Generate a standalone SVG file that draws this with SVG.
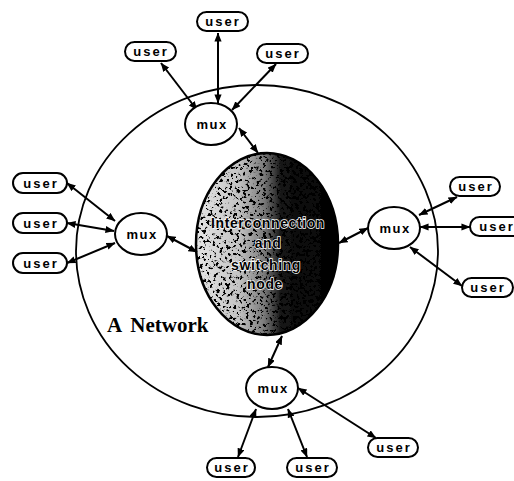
<svg xmlns="http://www.w3.org/2000/svg" width="514" height="481" viewBox="0 0 514 481">
<style>
.user rect{fill:#fff;stroke:#000;stroke-width:2}
.user text{font-family:"Liberation Sans",Arial,sans-serif;font-weight:bold;font-size:13px;letter-spacing:2px;text-anchor:middle;fill:#000}
.mux ellipse{fill:#fff;stroke:#000;stroke-width:2}
.mux text{font-family:"Liberation Sans",Arial,sans-serif;font-weight:bold;font-size:13px;letter-spacing:1.5px;text-anchor:middle;fill:#000}
.conn line{stroke:#000;stroke-width:2;marker-start:url(#ah);marker-end:url(#ah)}
.core text{font-family:"Liberation Sans",Arial,sans-serif;font-weight:bold;font-size:14px;text-anchor:middle;fill:#000;stroke:#fff;stroke-width:1.4;paint-order:stroke;letter-spacing:0.6px}
</style>
<defs>
<marker id="ah" viewBox="0 0 10 8" refX="9.5" refY="4" markerWidth="4.5" markerHeight="3.6" orient="auto-start-reverse" markerUnits="strokeWidth">
<path d="M0,0 L10,4 L0,8 Z" fill="#000"/>
</marker>
<linearGradient id="g" x1="0" y1="0" x2="1" y2="0">
<stop offset="0" stop-color="#e6e6e6"/>
<stop offset="0.3" stop-color="#c4c4c4"/>
<stop offset="0.48" stop-color="#7a7a7a"/>
<stop offset="0.6" stop-color="#151515"/>
<stop offset="1" stop-color="#000"/>
</linearGradient>
<filter id="speckle" x="0" y="0" width="100%" height="100%">
<feTurbulence type="fractalNoise" baseFrequency="0.3" numOctaves="3" seed="7" result="n"/>
<feColorMatrix in="n" type="matrix" values="0 0 0 0 0  0 0 0 0 0  0 0 0 0 0  12 0 0 0 -6.6" result="dots"/>
<feComposite in="dots" in2="SourceGraphic" operator="in" result="d2"/>
<feMerge><feMergeNode in="SourceGraphic"/><feMergeNode in="d2"/></feMerge>
</filter>
</defs>
<rect width="514" height="481" fill="#fff"/>
<g id="network">
<ellipse cx="257" cy="251" rx="181" ry="166" fill="none" stroke="#000" stroke-width="1.8"/>
<text x="107" y="332" font-family="'Liberation Serif','Times New Roman',serif" font-weight="bold" font-size="21" word-spacing="4">A Network</text>
</g>
<g id="core" class="core">
<ellipse cx="267" cy="244" rx="71" ry="91" fill="url(#g)" filter="url(#speckle)"/>
<ellipse cx="267" cy="244" rx="71" ry="91" fill="none" stroke="#000" stroke-width="2.5"/>
<text x="268" y="228">Interconnection</text>
<text x="268" y="248">and</text>
<text x="266" y="270">switching</text>
<text x="265" y="289">node</text>
</g>
<g id="connectors" class="conn">
<line x1="197" y1="110" x2="161" y2="63"/>
<line x1="218" y1="103" x2="218" y2="33"/>
<line x1="232" y1="110" x2="276" y2="64"/>
<line x1="239" y1="128" x2="258" y2="153"/>
<line x1="115" y1="221" x2="67" y2="183"/>
<line x1="114" y1="231" x2="67" y2="223"/>
<line x1="115" y1="243" x2="67" y2="263"/>
<line x1="167" y1="236" x2="197" y2="252"/>
<line x1="368" y1="228" x2="339" y2="243"/>
<line x1="419" y1="215" x2="457" y2="197"/>
<line x1="420" y1="227" x2="470" y2="227"/>
<line x1="410" y1="247" x2="462" y2="286"/>
<line x1="282" y1="336" x2="268" y2="367"/>
<line x1="256" y1="409" x2="238" y2="457"/>
<line x1="288" y1="409" x2="307" y2="457"/>
<line x1="298" y1="388" x2="376" y2="438"/>
</g>
<g id="mux-top" class="mux"><ellipse cx="211" cy="124" rx="26" ry="21"/><text x="212" y="129">mux</text></g>
<g id="mux-left" class="mux"><ellipse cx="141" cy="234" rx="26" ry="21"/><text x="142" y="239">mux</text></g>
<g id="mux-right" class="mux"><ellipse cx="394" cy="228" rx="26" ry="21"/><text x="395" y="233">mux</text></g>
<g id="mux-bottom" class="mux"><ellipse cx="272" cy="388" rx="26" ry="21"/><text x="273" y="393">mux</text></g>
<g id="user-t1" class="user"><rect x="125" y="42" width="51" height="19" rx="9.5"/><text x="151" y="56">user</text></g>
<g id="user-t2" class="user"><rect x="197" y="12" width="51" height="19" rx="9.5"/><text x="223" y="26">user</text></g>
<g id="user-t3" class="user"><rect x="257" y="44" width="51" height="19" rx="9.5"/><text x="283" y="58">user</text></g>
<g id="user-l1" class="user"><rect x="13" y="173" width="54" height="20" rx="10"/><text x="41" y="188">user</text></g>
<g id="user-l2" class="user"><rect x="13" y="213" width="54" height="20" rx="10"/><text x="41" y="228">user</text></g>
<g id="user-l3" class="user"><rect x="13" y="253" width="54" height="20" rx="10"/><text x="41" y="268">user</text></g>
<g id="user-r1" class="user"><rect x="450" y="177" width="50" height="19" rx="9.5"/><text x="476" y="191">user</text></g>
<g id="user-r2" class="user"><rect x="470" y="217" width="54" height="19" rx="9.5"/><text x="497" y="231">user</text></g>
<g id="user-r3" class="user"><rect x="462" y="278" width="51" height="19" rx="9.5"/><text x="488" y="292">user</text></g>
<g id="user-b1" class="user"><rect x="207" y="458" width="48" height="19" rx="9.5"/><text x="232" y="472">user</text></g>
<g id="user-b2" class="user"><rect x="287" y="458" width="50" height="19" rx="9.5"/><text x="313" y="472">user</text></g>
<g id="user-b3" class="user"><rect x="368" y="438" width="50" height="19" rx="9.5"/><text x="394" y="452">user</text></g>
</svg>
